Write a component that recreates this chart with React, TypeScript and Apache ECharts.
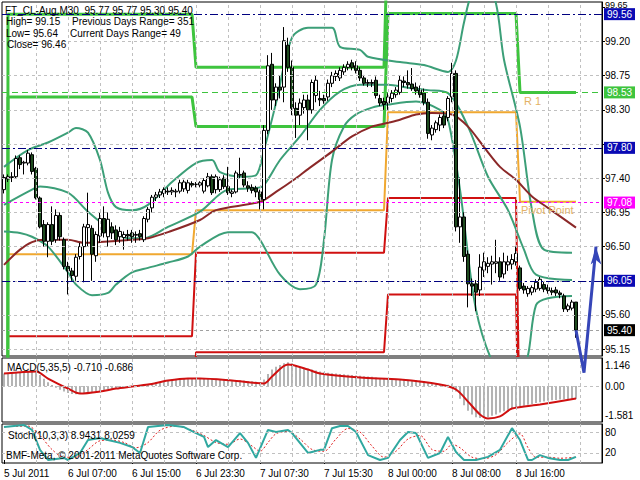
import React, { useEffect, useRef } from 'react';
import * as echarts from 'echarts';

const N_SLOTS = 150;
const TICK_LABELS = ['5 Jul 2011', '6 Jul 07:00', '6 Jul 15:00', '6 Jul 23:30', '7 Jul 07:30', '7 Jul 15:30', '8 Jul 00:00', '8 Jul 08:00', '8 Jul 16:00'];
const BARS_PER_LABEL = 16;
const BARS_PER_GRID = 8;

// [open, high, low, close]
const OHLC = [
  [97.25, 97.45, 97.20, 97.41], [97.39, 97.45, 97.35, 97.42], [97.41, 97.48, 97.35, 97.42], [97.42, 97.70, 97.40, 97.66],
  [97.67, 97.70, 97.52, 97.58], [97.60, 97.63, 97.45, 97.61], [97.60, 97.77, 97.57, 97.73], [97.71, 97.74, 97.45, 97.49],
  [97.53, 97.55, 97.12, 97.14], [97.14, 97.16, 96.74, 96.76], [96.79, 96.85, 96.50, 96.57], [96.57, 96.82, 96.36, 96.79],
  [96.79, 97.03, 96.52, 96.57], [96.59, 96.99, 96.55, 96.91], [96.91, 96.95, 96.58, 96.63], [96.59, 96.62, 96.20, 96.24],
  [96.24, 96.30, 95.87, 96.18], [96.18, 96.22, 96.05, 96.12], [96.11, 96.40, 96.05, 96.36], [96.37, 96.55, 96.33, 96.50],
  [96.50, 96.80, 96.03, 96.76], [96.75, 97.21, 96.50, 96.79], [96.74, 96.78, 96.05, 96.40], [96.38, 96.70, 96.30, 96.66],
  [96.64, 96.95, 96.55, 96.87], [96.87, 97.03, 96.62, 96.68], [96.63, 96.95, 96.50, 96.86], [96.76, 96.82, 96.60, 96.68],
  [96.72, 96.78, 96.52, 96.59], [96.63, 96.76, 96.55, 96.70], [96.62, 96.70, 96.46, 96.66], [96.66, 96.72, 96.58, 96.64],
  [96.68, 96.72, 96.55, 96.63], [96.65, 96.70, 96.55, 96.66], [96.67, 96.72, 96.58, 96.63], [96.59, 96.90, 96.56, 96.87],
  [96.86, 97.02, 96.82, 96.99], [97.01, 97.18, 96.95, 97.15], [97.15, 97.22, 97.10, 97.18], [97.18, 97.26, 97.14, 97.22],
  [97.20, 97.28, 97.15, 97.25], [97.23, 97.28, 97.18, 97.22], [97.22, 97.28, 97.18, 97.24], [97.22, 97.26, 97.15, 97.23],
  [97.23, 97.38, 97.20, 97.34], [97.26, 97.38, 97.22, 97.35], [97.24, 97.38, 97.20, 97.34], [97.33, 97.36, 97.28, 97.31],
  [97.32, 97.35, 97.28, 97.32], [97.31, 97.36, 97.28, 97.34], [97.23, 97.40, 97.20, 97.37], [97.30, 97.47, 97.28, 97.42],
  [97.42, 97.45, 97.18, 97.21], [97.25, 97.45, 97.20, 97.42], [97.25, 97.42, 97.22, 97.38], [97.40, 97.44, 97.26, 97.29],
  [97.29, 97.55, 97.18, 97.21], [97.20, 97.25, 97.15, 97.22], [97.22, 97.50, 97.20, 97.47], [97.45, 97.67, 97.40, 97.44],
  [97.47, 97.50, 97.28, 97.31], [97.30, 97.36, 97.22, 97.27], [97.28, 97.32, 97.20, 97.24], [97.27, 97.30, 97.15, 97.22],
  [97.22, 97.25, 96.99, 97.12], [97.12, 98.10, 96.99, 98.03], [98.03, 99.02, 97.98, 98.88], [98.90, 99.05, 98.30, 98.43],
  [98.43, 98.65, 98.35, 98.60], [98.60, 98.75, 98.45, 98.56], [98.60, 99.39, 98.40, 99.21], [99.15, 99.25, 98.80, 98.86],
  [98.86, 98.95, 98.23, 98.32], [98.32, 98.40, 97.93, 98.23], [98.23, 98.45, 98.10, 98.39], [98.33, 98.50, 98.25, 98.43],
  [98.43, 98.50, 97.90, 98.30], [98.30, 98.70, 98.25, 98.66], [98.49, 98.75, 98.40, 98.69], [98.45, 98.55, 98.35, 98.43],
  [98.45, 98.50, 98.38, 98.42], [98.47, 98.70, 98.42, 98.65], [98.65, 98.80, 98.60, 98.75], [98.74, 98.82, 98.68, 98.78],
  [98.72, 98.86, 98.68, 98.82], [98.80, 98.90, 98.76, 98.86], [98.86, 98.94, 98.82, 98.90], [98.92, 98.96, 98.82, 98.86],
  [98.88, 98.94, 98.78, 98.82], [98.82, 98.86, 98.68, 98.72], [98.72, 98.76, 98.62, 98.65], [98.65, 98.70, 98.60, 98.66],
  [98.66, 98.70, 98.60, 98.65], [98.69, 98.74, 98.45, 98.49], [98.45, 98.50, 98.35, 98.39], [98.41, 98.46, 98.30, 98.37],
  [98.39, 98.52, 98.30, 98.47], [98.45, 98.56, 98.40, 98.52], [98.50, 98.60, 98.46, 98.56], [98.53, 98.75, 98.50, 98.69],
  [98.68, 98.74, 98.60, 98.66], [98.66, 98.82, 98.58, 98.63], [98.64, 98.85, 98.55, 98.58], [98.60, 98.66, 98.50, 98.55],
  [98.56, 98.62, 98.46, 98.50], [98.52, 98.58, 98.36, 98.40], [98.40, 98.45, 97.92, 97.99], [97.97, 98.10, 97.90, 98.06],
  [98.04, 98.16, 98.00, 98.13], [98.10, 98.24, 98.02, 98.20], [98.22, 98.28, 98.06, 98.10], [98.20, 98.48, 98.15, 98.45],
  [98.47, 98.92, 98.40, 98.78], [98.78, 98.82, 96.70, 96.76], [96.76, 97.41, 96.55, 96.89], [96.89, 96.95, 96.30, 96.37],
  [96.40, 96.45, 95.70, 96.01], [96.01, 96.08, 95.85, 95.98], [96.01, 96.06, 95.65, 95.90], [95.93, 96.40, 95.85, 96.23],
  [96.19, 96.42, 96.10, 96.30], [96.24, 96.36, 96.15, 96.28], [96.27, 96.38, 96.00, 96.30], [96.28, 96.59, 96.15, 96.30],
  [96.30, 96.36, 96.05, 96.10], [96.14, 96.42, 96.08, 96.30], [96.26, 96.38, 96.18, 96.30], [96.27, 96.40, 96.20, 96.33],
  [96.30, 96.50, 96.25, 96.41], [96.22, 96.25, 95.92, 95.95], [95.98, 96.02, 95.88, 95.93], [95.88, 95.98, 95.84, 95.95],
  [95.90, 95.99, 95.86, 95.96], [95.94, 96.07, 95.90, 96.03], [95.95, 96.10, 95.92, 96.07], [96.00, 96.04, 95.90, 95.94],
  [95.96, 96.00, 95.88, 95.92], [95.92, 95.96, 95.86, 95.90], [95.93, 95.97, 95.85, 95.89], [95.89, 95.92, 95.82, 95.87],
  [95.85, 95.88, 95.64, 95.68], [95.67, 95.75, 95.64, 95.72], [95.69, 95.80, 95.66, 95.77], [95.77, 95.77, 95.30, 95.40],
];

const PRICE_TICKS = [95.15, 95.6, 96.05, 96.5, 96.95, 97.4, 97.85, 98.3, 98.75, 99.2, 99.65];
// labels hidden under the level boxes in the reference are not printed
const PRICE_HIDDEN_LABELS = [96.05, 97.85];
const PRICE_TOP_LABEL = 99.65;
const PRICE_MIN = 95.06;
const PRICE_MAX = 99.72;

const BB_UPPER = [[0, 97.55], [6, 97.77], [11, 97.87], [16, 98.0], [18, 98.06], [21, 98.0], [24, 97.64], [26, 97.21], [28, 97.02], [32, 96.98], [36, 97.05], [42, 97.35], [48, 97.6], [52, 97.64], [54, 97.48], [60, 97.42], [63, 97.44], [65, 97.77], [68, 98.39], [72, 99.25], [76, 99.38], [82, 99.38], [84, 99.13], [89, 99.09], [91, 99.0], [99, 98.93], [105, 98.89], [111, 98.8], [113, 98.95], [115, 99.45], [117, 99.85], [120, 100.05], [123, 99.7], [125, 98.96], [129, 98.08], [132, 96.98], [135, 96.46], [142, 96.42]];
const BB_MIDDLE = [[0, 97.05], [7, 97.25], [9, 97.29], [16, 97.21], [21, 96.96], [26, 96.75], [31, 96.61], [35, 96.61], [41, 96.76], [49, 96.96], [56, 97.25], [63, 97.27], [65, 97.31], [69, 97.64], [74, 97.95], [79, 98.3], [84, 98.54], [89, 98.63], [96, 98.63], [101, 98.59], [106, 98.56], [111, 98.52], [116, 98.08], [121, 97.42], [126, 96.98], [130, 96.46], [133, 96.13], [142, 96.06]];
const BB_LOWER = [[0, 96.7], [4, 96.68], [7, 96.63], [11, 96.5], [16, 96.16], [18, 96.0], [22, 95.86], [26, 95.89], [28, 96.0], [32, 96.16], [36, 96.22], [41, 96.29], [46, 96.37], [49, 96.5], [56, 96.69], [62, 96.69], [64, 96.59], [69, 96.13], [74, 95.94], [78, 96.0], [80, 96.59], [82, 97.64], [85, 98.08], [88, 98.24], [92, 98.33], [96, 98.37], [103, 98.41], [109, 98.3], [111, 98.17], [114, 97.25], [118, 95.67], [123, 94.88], [128, 94.6], [131, 95.07], [133, 95.73], [136, 95.82], [142, 95.85]];
const MA_SLOW = [[0, 96.26], [4, 96.46], [7, 96.56], [10, 96.59], [16, 96.59], [20, 96.55], [24, 96.56], [32, 96.59], [36, 96.61], [41, 96.69], [49, 96.85], [53, 96.98], [64, 97.09], [68, 97.22], [73, 97.4], [76, 97.52], [82, 97.75], [87, 97.95], [92, 98.08], [96, 98.13], [99, 98.17], [103, 98.24], [107, 98.26], [112, 98.24], [116, 98.08], [120, 97.81], [124, 97.55], [128, 97.38], [132, 97.16], [136, 97.01], [143, 96.75]];

const DAY_START = [1, 48, 96, 129];
const DAY_END = [47, 95, 128, 143];
const PIVOT_FIRST = 0;
const R2 = [99.56, 98.86, 100.8, 100.8];
const R1 = [98.47, 98.08, 99.57, 98.53];
const PP = [96.4, 96.98, 98.27, 97.09];
const S1 = [95.32, 96.42, 97.14, 93.8];
const S2 = [93.5, 95.11, 95.87, 93.0];

const NAVY_LEVELS = [99.56, 97.8, 96.05];
const GREEN_LEVEL = 98.53;
const MAGENTA_LEVEL = 97.08;
const BID = 95.4;

const FORECAST = [[143, 95.4], [145, 94.84], [148, 96.5]];

const MACD_MAIN = [
  0.68, 0.7, 0.72, 0.74, 0.76, 0.78, 0.8, 0.8, 0.75, 0.6,
  0.4, 0.2, 0.05, -0.1, -0.2, -0.3, -0.38, -0.43, -0.45, -0.44,
  -0.4, -0.36, -0.33, -0.3, -0.26, -0.22, -0.18, -0.15, -0.12, -0.1,
  -0.08, -0.06, -0.05, -0.03, 0.0, 0.05, 0.1, 0.15, 0.2, 0.24,
  0.28, 0.3, 0.32, 0.34, 0.36, 0.38, 0.4, 0.41, 0.42, 0.42,
  0.42, 0.42, 0.4, 0.4, 0.38, 0.36, 0.34, 0.32, 0.32, 0.32,
  0.3, 0.28, 0.26, 0.24, 0.2, 0.35, 0.65, 0.9, 1.05, 1.15,
  1.25, 1.3, 1.25, 1.15, 1.05, 1.0, 0.95, 0.9, 0.85, 0.8,
  0.75, 0.72, 0.7, 0.68, 0.66, 0.64, 0.62, 0.6, 0.58, 0.56,
  0.54, 0.52, 0.5, 0.47, 0.44, 0.42, 0.4, 0.38, 0.37, 0.36,
  0.35, 0.34, 0.33, 0.32, 0.3, 0.28, 0.2, 0.14, 0.1, 0.08,
  0.06, 0.07, 0.12, -0.3, -0.7, -1.05, -1.35, -1.55, -1.7, -1.75,
  -1.75, -1.7, -1.62, -1.55, -1.45, -1.38, -1.3, -1.22, -1.15, -1.12,
  -1.08, -1.02, -0.98, -0.92, -0.88, -0.84, -0.8, -0.78, -0.76, -0.74,
  -0.72, -0.71, -0.7, -0.71,
];
const MACD_SIGNAL = [[0, 0.68], [8, 0.79], [11, 0.41], [16, -0.14], [19, -0.41], [24, -0.3], [28, -0.14], [32, -0.03], [36, 0.08], [41, 0.3], [46, 0.41], [49, 0.41], [57, 0.3], [65, 0.14], [67, 0.52], [71, 1.17], [76, 0.9], [79, 0.68], [89, 0.46], [99, 0.35], [109, 0.08], [113, -0.19], [116, -0.85], [119, -1.55], [121, -1.77], [124, -1.66], [127, -1.23], [134, -1.01], [143, -0.686]];
const MACD_LABELS = [1.146, 0, -1.581];

const STOCH_MAIN = [[0, 94], [5, 100], [7, 86], [9, 29], [11, 0], [15, 6], [16, 0], [19, 20], [21, 57], [24, 63], [26, 57], [29, 49], [32, 37], [34, 20], [36, 94], [41, 100], [45, 94], [48, 77], [50, 66], [51, 37], [53, 57], [56, 37], [59, 77], [61, 49], [63, 6], [66, 86], [68, 80], [71, 86], [72, 77], [76, 20], [77, 23], [79, 29], [80, 29], [82, 91], [84, 97], [86, 97], [88, 80], [91, 14], [94, 0], [96, 6], [99, 57], [101, 80], [103, 77], [106, 6], [109, 20], [111, 66], [113, 23], [115, 0], [118, 0], [121, 9], [124, 29], [127, 91], [129, 57], [131, 0], [132, 0], [134, 14], [136, 6], [139, 0], [141, 0], [143, 8.94]];
const STOCH_SIGNAL = [[0, 95], [6, 97], [9, 70], [12, 30], [15, 8], [18, 8], [21, 30], [24, 55], [27, 57], [30, 50], [33, 35], [36, 50], [39, 85], [43, 97], [47, 85], [50, 70], [53, 50], [56, 45], [59, 60], [62, 40], [64, 25], [66, 50], [68, 75], [71, 82], [74, 60], [77, 30], [80, 25], [83, 60], [86, 90], [89, 80], [92, 40], [95, 8], [98, 25], [101, 60], [104, 70], [107, 30], [110, 25], [112, 45], [114, 35], [117, 8], [120, 4], [123, 15], [126, 50], [129, 75], [131, 35], [133, 8], [136, 8], [139, 5], [143, 8.03]];
const STOCH_LEVELS = [80, 20];
const STOCH_LABELS = [0, 20, 80, 100];

const FONT = '"Liberation Sans", Arial, sans-serif';

function stepData(levels: number[]) {
  const d: number[][] = [[0, PIVOT_FIRST]];
  levels.forEach((v, k) => {
    d.push([DAY_START[k], v]);
    d.push([DAY_END[k], v]);
  });
  return d;
}

const GRID_LINE = { color: '#c0c0c0', type: [3, 3] as number[], width: 1 };

function gridLinesSeries(gridIdx: number, yValues: number[]) {
  const verts: any[] = [];
  for (let i = BARS_PER_GRID; i < N_SLOTS; i += BARS_PER_GRID) verts.push({ xAxis: i });
  return {
    type: 'line', xAxisIndex: gridIdx, yAxisIndex: gridIdx, data: [], z: 1, silent: true,
    markLine: {
      silent: true, symbol: ['none', 'none'], label: { show: false }, lineStyle: GRID_LINE, animation: false,
      data: [...verts, ...yValues.map((v) => ({ yAxis: v }))],
    },
  };
}

export default function App() {
  const ref = useRef<HTMLDivElement>(null);
  useEffect(() => {
    const chart = echarts.init(ref.current!, undefined, { renderer: 'svg' });
    const cats = Array.from({ length: N_SLOTS }, (_, i) => String(i));
    const candles = OHLC.map(([o, h, l, c]) => [o, c, l, h]);
    const labelIdx = (i: number) => i % BARS_PER_LABEL === 0 && i / BARS_PER_LABEL < TICK_LABELS.length;

    const xAxes = [0, 1, 2].map((g) => ({
      type: 'category', gridIndex: g, data: cats, boundaryGap: true,
      axisLine: { show: false },
      axisTick: g === 2 ? { show: true, alignWithLabel: true, interval: (i: number) => labelIdx(i), length: 4, lineStyle: { color: '#000' } } : { show: false },
      axisLabel: g === 2 ? {
        show: true, interval: (i: number) => labelIdx(i), formatter: (_v: string, i: number) => TICK_LABELS[i / BARS_PER_LABEL] ?? '',
        align: 'left', color: '#000', fontSize: 10, fontFamily: FONT, margin: 5,
      } : { show: false },
      splitLine: { show: false },
    }));

    const yCommon = {
      type: 'value', position: 'right', scale: true,
      axisLine: { show: true, lineStyle: { color: '#000' } },
      splitLine: { show: false },
    };
    const lbl = { color: '#000', fontSize: 10, fontFamily: FONT, align: 'left', margin: 3 };

    const pivot = (name: string, levels: number[], color: string, width: number, extra: any = {}) => ({
      name, type: 'line', xAxisIndex: 0, yAxisIndex: 0, data: stepData(levels), symbol: 'none', z: 2,
      lineStyle: { color, width }, ...extra,
    });
    const bb = (data: number[][]) => ({
      type: 'line', xAxisIndex: 0, yAxisIndex: 0, data, symbol: 'none', smooth: 0.3, z: 3,
      lineStyle: { color: '#3c9f78', width: 2 },
    });

    const levelLine = (v: number, lineColor: string, type: any, boxColor: string) => ({
      yAxis: v, lineStyle: { color: lineColor, type, width: 1 },
      label: { backgroundColor: boxColor },
    });
    const printedTicks = PRICE_TICKS.filter((v) => !PRICE_HIDDEN_LABELS.includes(v) && v !== PRICE_TOP_LABEL);

    chart.setOption({
      animation: false,
      textStyle: { fontFamily: FONT },
      grid: [
        { left: 2, top: 2, width: 600, height: 354, show: true, borderColor: '#000', borderWidth: 1, backgroundColor: '#fff' },
        { left: 2, top: 358, width: 600, height: 64, show: true, borderColor: '#000', borderWidth: 1, backgroundColor: '#fff' },
        { left: 2, top: 424, width: 600, height: 39, show: true, borderColor: '#000', borderWidth: 1, backgroundColor: '#fff' },
      ],
      xAxis: xAxes,
      yAxis: [
        {
          ...yCommon, gridIndex: 0, min: PRICE_MIN, max: PRICE_MAX,
          axisTick: { show: true, customValues: PRICE_TICKS, length: 3, lineStyle: { color: '#000' } },
          axisLabel: { ...lbl, customValues: printedTicks, formatter: (v: number) => v.toFixed(2) },
        },
        {
          ...yCommon, gridIndex: 1, min: -1.963, max: 1.53,
          axisTick: { show: false, customValues: MACD_LABELS },
          axisLabel: { ...lbl, customValues: MACD_LABELS, formatter: (v: number) => (v === 0 ? '0.00' : v.toFixed(3)) },
        },
        {
          ...yCommon, gridIndex: 2, min: -8.6, max: 102.9,
          axisTick: { show: false, customValues: STOCH_LABELS },
          axisLabel: { ...lbl, customValues: STOCH_LABELS, formatter: (v: number) => String(v) },
        },
      ],
      series: [
        gridLinesSeries(0, PRICE_TICKS.filter((v) => v < PRICE_TOP_LABEL)),
        gridLinesSeries(1, [0]),
        gridLinesSeries(2, STOCH_LEVELS),
        pivot('S2', S2, '#d01010', 2),
        pivot('S1', S1, '#d01010', 2),
        pivot('PP', PP, '#f0a830', 2, {
          markPoint: {
            symbol: 'circle', symbolSize: 0, animation: false,
            label: { show: true, position: [1, 3], color: '#e3b266', fontSize: 11, fontFamily: FONT, formatter: 'Pivot Point' },
            data: [{ coord: [DAY_START[3], PP[3]] }],
          },
        }),
        pivot('R2', R2, '#3ec43e', 3),
        pivot('R1', R1, '#3ec43e', 3, {
          markPoint: {
            symbol: 'circle', symbolSize: 0, animation: false,
            label: { show: true, position: [4, 3], color: '#e3b266', fontSize: 11, fontFamily: FONT, formatter: 'R 1' },
            data: [{ coord: [DAY_START[3], R1[3]] }],
          },
        }),
        bb(BB_UPPER), bb(BB_MIDDLE), bb(BB_LOWER),
        {
          type: 'line', xAxisIndex: 0, yAxisIndex: 0, data: MA_SLOW, symbol: 'none', smooth: 0.3, z: 3,
          lineStyle: { color: '#8b2828', width: 2 },
        },
        {
          type: 'line', xAxisIndex: 0, yAxisIndex: 0, data: [], z: 3,
          markLine: {
            silent: true, symbol: ['none', 'none'], animation: false,
            label: {
              show: true, position: 'end', distance: 2, color: '#fff', fontSize: 10, fontFamily: FONT,
              padding: [1, 3, 1, 3], formatter: (p: any) => Number(p.value).toFixed(2),
            },
            data: [
              ...NAVY_LEVELS.map((v) => levelLine(v, '#000080', [8, 3, 2, 3], '#0a0ab4')),
              levelLine(GREEN_LEVEL, '#3ec43e', [6, 4], '#3ec43e'),
              levelLine(MAGENTA_LEVEL, '#ff00ff', [3, 3], '#ff00ff'),
              levelLine(BID, '#a0a0a0', [3, 3], '#000'),
            ],
          },
        },
        {
          type: 'candlestick', xAxisIndex: 0, yAxisIndex: 0, data: candles, barWidth: 3, z: 4,
          itemStyle: { color: '#fff', color0: '#1e4a1e', borderColor: '#000', borderColor0: '#000', borderWidth: 1 },
        },
        {
          type: 'line', xAxisIndex: 0, yAxisIndex: 0, clip: false, z: 5,
          data: FORECAST.map((p, k) => (k === FORECAST.length - 1 ? { value: p, symbol: 'arrow', symbolSize: [8, 18] } : { value: p, symbol: 'none' })),
          showSymbol: true, showAllSymbol: true,
          itemStyle: { color: '#3646b8' },
          lineStyle: { color: '#3646b8', width: 3 },
        },
        {
          type: 'bar', xAxisIndex: 1, yAxisIndex: 1, data: MACD_MAIN, barWidth: 2, z: 2,
          itemStyle: { color: '#b4b4b4' },
        },
        {
          type: 'line', xAxisIndex: 1, yAxisIndex: 1, data: MACD_SIGNAL, symbol: 'none', smooth: 0.3, z: 3,
          lineStyle: { color: '#d01010', width: 2 },
        },
        {
          type: 'line', xAxisIndex: 2, yAxisIndex: 2, data: STOCH_MAIN, symbol: 'none', z: 3,
          lineStyle: { color: '#30a8a0', width: 2 },
        },
        {
          type: 'line', xAxisIndex: 2, yAxisIndex: 2, data: STOCH_SIGNAL, symbol: 'none', smooth: 0.3, z: 2,
          lineStyle: { color: '#e02020', width: 1, type: [2, 2] },
        },
      ],
      graphic: [
        { type: 'text', x: 605, y: 0, z: 10, style: { text: PRICE_TOP_LABEL.toFixed(2), fill: '#000', font: `9px ${FONT}`, verticalAlign: 'top' } },
        { type: 'text', x: 5, y: 10, z: 10, style: { text: 'FT_CL-Aug,M30  95.77 95.77 95.30 95.40', fill: '#000', font: `10px ${FONT}`, verticalAlign: 'middle' } },
        { type: 'text', x: 6, y: 21, z: 10, style: { text: 'High= 99.15', fill: '#000', font: `10px ${FONT}`, verticalAlign: 'middle' } },
        { type: 'text', x: 72, y: 21, z: 10, style: { text: 'Previous Days Range= 351', fill: '#000', font: `10px ${FONT}`, verticalAlign: 'middle' } },
        { type: 'text', x: 6, y: 33, z: 10, style: { text: 'Low= 95.64', fill: '#000', font: `10px ${FONT}`, verticalAlign: 'middle' } },
        { type: 'text', x: 70, y: 33, z: 10, style: { text: 'Current Days Range= 49', fill: '#000', font: `10px ${FONT}`, verticalAlign: 'middle' } },
        { type: 'text', x: 7, y: 44, z: 10, style: { text: 'Close= 96.46', fill: '#000', font: `10px ${FONT}`, verticalAlign: 'middle' } },
        { type: 'text', x: 7, y: 367, z: 10, style: { text: 'MACD(5,35,5) -0.710 -0.686', fill: '#000', font: `10px ${FONT}`, verticalAlign: 'middle' } },
        { type: 'text', x: 8, y: 435, z: 10, style: { text: 'Stoch(10,3,3) 8.9431 8.0259', fill: '#000', font: `10px ${FONT}`, verticalAlign: 'middle' } },
        { type: 'text', x: 6, y: 455, z: 10, style: { text: 'BMF-Meta, © 2001-2011 MetaQuotes Software Corp.', fill: '#000', font: `10px ${FONT}`, verticalAlign: 'middle' } },
      ],
    });
    return () => chart.dispose();
  }, []);
  return <div ref={ref} style={{ position: 'fixed', left: 0, top: 0, width: 640, height: 480, background: '#fff' }} />;
}
